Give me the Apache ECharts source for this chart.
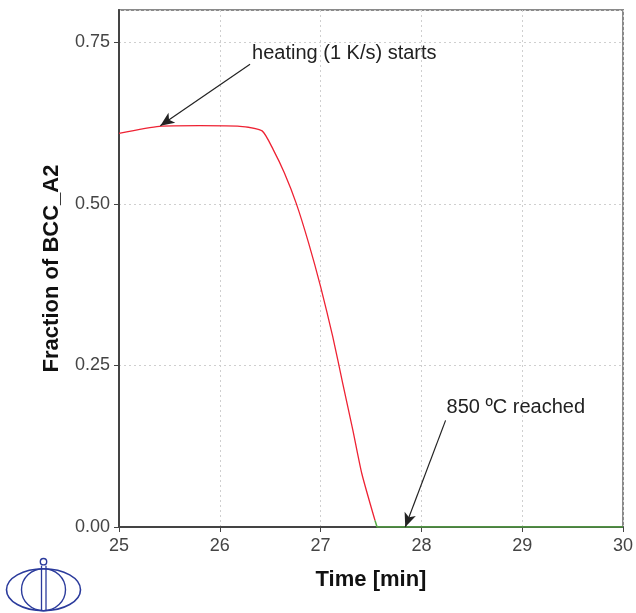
<!DOCTYPE html>
<html>
<head>
<meta charset="utf-8">
<script src="https://cdn.jsdelivr.net/npm/echarts@6/dist/echarts.min.js"></script>
<style>html,body{margin:0;padding:0;background:#fff}#c{width:636px;height:613px}</style>
</head>
<body>
<div id="c"></div>
<script>
var timeMin = [25.00, 25.40, 25.80, 26.20, 26.42, 26.53, 26.64, 26.76, 26.88, 27.00, 27.12, 27.22, 27.32, 27.41, 27.54];
var fracBCC = [0.609, 0.620, 0.621, 0.620, 0.613, 0.584, 0.548, 0.500, 0.440, 0.372, 0.295, 0.222, 0.150, 0.082, 0.010];
var afterTime = [27.54, 27.56, 30.0];
var afterFrac = [0.010, 0.0, 0.0];
var xTicks = [25, 26, 27, 28, 29, 30];
var yTicks = [0, 0.25, 0.5, 0.75];
var note1 = {text: 'heating (1 K/s) starts', from: [26.30, 0.716], to: [25.41, 0.621], at: [26.32, 0.732]};
var note2 = {text: '850 ºC reached', from: [28.24, 0.165], to: [27.84, 0.0], at: [28.25, 0.185]};

var font = 'Liberation Sans, Arial, sans-serif';
var chart = echarts.init(document.getElementById('c'));
function zip(a, b) { return a.map(function (v, i) { return [v, b[i]]; }); }
function noteLine(n) {
  return {
    silent: true, symbol: ['none', 'arrow'], symbolSize: [9, 14],
    lineStyle: {color: '#222', width: 1.2, type: 'solid'},
    label: {show: false},
    data: [[{coord: n.from}, {coord: n.to}]]
  };
}
function notePoint(n) {
  return {
    silent: true, symbol: 'circle', symbolSize: 0,
    label: {show: true, position: 'right', distance: 0, formatter: n.text, color: '#222', fontSize: 20, fontFamily: font},
    data: [{coord: n.at}]
  };
}
chart.setOption({
  animation: false,
  grid: {left: 119, right: 12, top: 10, bottom: 86, show: true, borderColor: '#8a8a8a', borderWidth: 2, backgroundColor: '#fff'},
  xAxis: {
    type: 'value', min: 25, max: 30, interval: 1,
    name: 'Time [min]', nameLocation: 'middle', nameGap: 42,
    nameTextStyle: {fontSize: 22, fontWeight: 'bold', color: '#111', fontFamily: font},
    axisLine: {onZero: false, lineStyle: {color: '#444', width: 2}},
    axisTick: {show: true, length: 5, lineStyle: {color: '#444'}},
    axisLabel: {color: '#444', fontSize: 18, fontFamily: font, margin: 10, formatter: function (v) { return xTicks.indexOf(v) >= 0 ? String(v) : ''; }},
    splitLine: {show: true, lineStyle: {color: '#cfcfcf', type: [2, 3], width: 1}}
  },
  yAxis: {
    type: 'value', min: 0, max: 0.8, interval: 0.25,
    name: 'Fraction of BCC_A2', nameLocation: 'middle', nameGap: 56,
    nameTextStyle: {fontSize: 22, fontWeight: 'bold', color: '#111', fontFamily: font},
    axisLine: {lineStyle: {color: '#444', width: 2}},
    axisTick: {show: true, length: 5, lineStyle: {color: '#444'}},
    axisLabel: {color: '#444', fontSize: 18, fontFamily: font, margin: 9, showMaxLabel: false,
      formatter: function (v) { return yTicks.indexOf(v) >= 0 ? v.toFixed(2) : ''; }},
    splitLine: {show: true, lineStyle: {color: '#cfcfcf', type: [2, 3], width: 1}}
  },
  series: [
    {
      type: 'line', data: zip(timeMin, fracBCC), showSymbol: false, smooth: 0.2,
      lineStyle: {color: '#ee2233', width: 1.3}, z: 3,
      markLine: noteLine(note1), markPoint: notePoint(note1)
    },
    {
      type: 'line', data: zip(afterTime, afterFrac), showSymbol: false,
      lineStyle: {color: '#55aa44', width: 1.5}, z: 4,
      markLine: noteLine(note2), markPoint: notePoint(note2)
    }
  ],
  graphic: [
    {type: 'group', left: 4, top: 556, children: [
      {type: 'circle', shape: {cx: 39, cy: 6, r: 3.2}, style: {fill: 'none', stroke: '#2b3b9c', lineWidth: 1.4}},
      {type: 'ellipse', shape: {cx: 39, cy: 34, rx: 37, ry: 21}, style: {fill: 'none', stroke: '#2b3b9c', lineWidth: 1.6}},
      {type: 'ellipse', shape: {cx: 39, cy: 34, rx: 22, ry: 21}, style: {fill: 'none', stroke: '#2b3b9c', lineWidth: 1.4}},
      {type: 'line', shape: {x1: 37, y1: 10, x2: 37, y2: 55}, style: {stroke: '#2b3b9c', lineWidth: 1.3}},
      {type: 'line', shape: {x1: 41.5, y1: 10, x2: 41.5, y2: 55}, style: {stroke: '#2b3b9c', lineWidth: 1.3}}
    ]}
  ]
});
</script>
</body>
</html>
